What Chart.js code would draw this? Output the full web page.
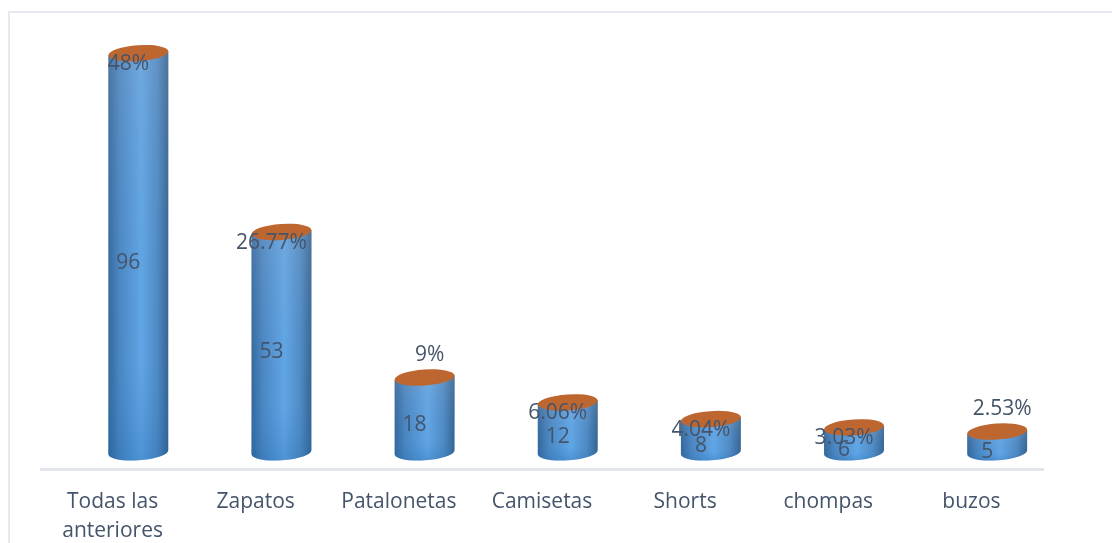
<!DOCTYPE html>
<html>
<head>
<meta charset="utf-8">
<title>Prendas</title>
<script src="https://cdn.jsdelivr.net/npm/chart.js@4/dist/chart.umd.js"></script>
<style>
  html, body { margin: 0; padding: 0; background: #fff; overflow: hidden; }
  #wrap { position: relative; width: 1112px; height: 543px; }
  #frame { position: absolute; left: 8px; top: 11px; right: 0; bottom: 0; border-left: 2px solid #e6e9f0; border-top: 2px solid #e6e9f0; }
  canvas { position: absolute; left: 0; top: 0; }
</style>
</head>
<body>
<div id="wrap">
  <div id="frame"></div>
  <canvas id="chart" width="1112" height="543"></canvas>
</div>
<script>
const categories = [["Todas las", "anteriores"], "Zapatos", "Patalonetas", "Camisetas", "Shorts", "chompas", "buzos"]
const counts = [96, 53, 18, 12, 8, 6, 5]
const percents = ["48%", "26.77%", "9%", "6.06%", "4.04%", "3.03%", "2.53%"]
// the two labels that sit above the cylinder instead of on it
const percentsAbove = ["9%", "2.53%"]

const textColor = "#44546a"
const lineColor = "#e2e5ed"
const labelFont = "21px 'Open Sans', sans-serif"

// the bar elements stay invisible, this paints them as 3D cylinders
const cylinderPlugin = {
  id: "cylinders",
  afterDatasetsDraw(chart) {
    const ctx = chart.ctx
    const bars = chart.getDatasetMeta(0).data
    const tilt = -4 * Math.PI / 180

    bars.forEach((bar) => {
      const rx = bar.width / 2
      const ry = 8
      const left = bar.x - rx
      const right = bar.x + rx
      const rise = Math.sin(-tilt) * rx

      ctx.save()
      ctx.beginPath()
      ctx.moveTo(left, bar.y + rise)
      ctx.lineTo(left, bar.base + rise)
      ctx.ellipse(bar.x, bar.base, rx, ry, tilt, Math.PI, 0, true)
      ctx.lineTo(right, bar.y - rise)
      ctx.closePath()

      const side = ctx.createLinearGradient(left, 0, right, 0)
      side.addColorStop(0, "#33669a")
      side.addColorStop(0.18, "#4a86c2")
      side.addColorStop(0.55, "#62a8e8")
      side.addColorStop(0.82, "#4f8ac4")
      side.addColorStop(1, "#34628f")
      ctx.fillStyle = side
      ctx.fill()

      // top fades greyer, foot gets deeper
      const fade = ctx.createLinearGradient(0, bar.y, 0, bar.base + ry)
      fade.addColorStop(0, "rgba(160,175,195,0.22)")
      fade.addColorStop(0.75, "rgba(60,130,200,0.06)")
      fade.addColorStop(1, "rgba(30,100,170,0.3)")
      ctx.fillStyle = fade
      ctx.fill()

      ctx.beginPath()
      ctx.ellipse(bar.x, bar.y, rx, ry, tilt, 0, Math.PI * 2)
      ctx.fillStyle = "#bd6630"
      ctx.fill()
      ctx.restore()
    })
  },
}

const labelPlugin = {
  id: "barLabels",
  afterDraw(chart) {
    const ctx = chart.ctx
    const bars = chart.getDatasetMeta(0).data

    ctx.save()
    ctx.font = labelFont
    ctx.fillStyle = textColor
    ctx.textAlign = "center"
    ctx.textBaseline = "middle"
    bars.forEach((bar, i) => {
      ctx.fillText(String(counts[i]), bar.x - 10, (bar.y + bar.base) / 2 + 10)
      const above = percentsAbove.includes(percents[i])
      ctx.fillText(percents[i], bar.x + (above ? 5 : -10), bar.y + (above ? -23 : 11))
    })
    ctx.restore()
  },
}

new Chart(document.getElementById("chart"), {
  type: "bar",
  data: {
    labels: categories,
    datasets: [
      {
        data: counts.map((v, i) => ({ x: i, y: v })),
        xAxisID: "xBars",
        backgroundColor: "rgba(0, 0, 0, 0)",
        barThickness: 60,
      },
    ],
  },
  options: {
    responsive: false,
    animation: false,
    layout: {
      padding: { left: 41, right: 69, top: 20, bottom: 0 },
    },
    plugins: {
      legend: { display: false },
      tooltip: { enabled: false },
    },
    scales: {
      y: {
        display: false,
        min: -4,
        max: 104,
      },
      // bars sit a bit to the right of their labels, like the 3D chart did
      xBars: {
        type: "linear",
        display: false,
        offset: false,
        min: -0.68,
        max: 6.32,
      },
      x: {
        type: "category",
        offset: true,
        afterFit: (scale) => { scale.height = 74 },
        grid: { display: false, drawTicks: false },
        border: { color: lineColor, width: 3 },
        ticks: {
          color: textColor,
          font: { family: "'Open Sans', sans-serif", size: 21, lineHeight: 1.38 },
          padding: 19,
          maxRotation: 0,
          autoSkip: false,
        },
      },
    },
  },
  plugins: [cylinderPlugin, labelPlugin],
})
</script>
</body>
</html>
